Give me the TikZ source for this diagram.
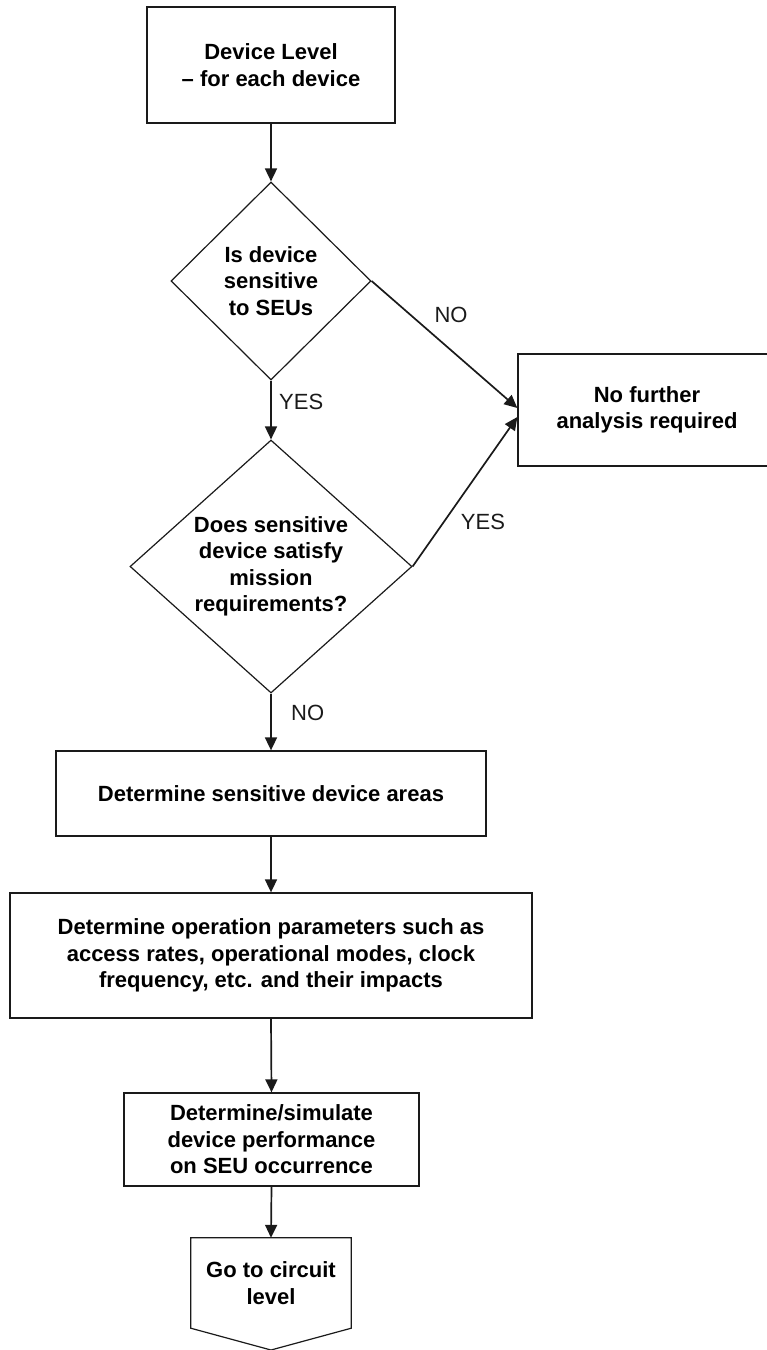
\documentclass[tikz,border=0pt]{standalone}
\usepackage{fontspec}
\setmainfont{Liberation Sans}
\usetikzlibrary{arrows.meta,shapes.geometric,calc}

\definecolor{ink}{HTML}{1A1A1A}

\begin{document}
\begin{tikzpicture}[x=1pt,y=-1pt,
  txt/.style={font=\fontsize{22}{26.5}\selectfont},
  boldtxt/.style={font=\bfseries\fontsize{22}{26.5}\selectfont},
  stepbox/.style={draw=ink, line width=1.3pt, boldtxt, align=center,
    inner sep=0pt, rectangle},
  decision/.style={draw=ink, line width=1.2pt, boldtxt, align=center,
    inner sep=0pt, shape=diamond},
  flow/.style={draw=ink, line width=1.7pt,
    -{Triangle[length=13pt,width=12pt]}},
  answer/.style={txt, inner sep=0pt, text=ink}
]
\clip (0,0) rectangle (767,1350);
\useasboundingbox (0,0) rectangle (767,1350);

% process boxes and decisions
\node[stepbox, minimum width=248pt, minimum height=116pt] (start) at (271,65)
  {Device Level\\– for each device};
\node[decision, minimum width=200pt, minimum height=198pt] (sens) at (271,281)
  {Is device\\sensitive\\to SEUs};
\node[stepbox, minimum width=258pt, minimum height=112pt] (stop) at (647,410)
  {No further\\analysis required};
\node[decision, shape aspect=1.115, minimum width=282pt, minimum height=253pt]
  (mission) at (271,566.5)
  {Does sensitive\\device satisfy\\mission\\requirements?};
\node[stepbox, minimum width=430pt, minimum height=85pt] (areas) at (271,793.5)
  {Determine sensitive device areas};
\node[stepbox, minimum width=522pt, minimum height=125pt] (params) at (271,955.5)
  {Determine operation parameters such as\\access rates, operational modes, clock\\frequency, etc. and their impacts};
\node[stepbox, minimum width=295pt, minimum height=93pt] (sim) at (271.5,1139.5)
  {Determine/simulate\\device performance\\on SEU occurrence};

% off-page connector
\node[boldtxt, align=center, inner sep=0pt, minimum width=160pt,
  minimum height=90pt] (circuit) at (271,1283) {Go to circuit\\level};
\coordinate (tip) at (271,1350);
\draw[ink, line width=1.2pt, line join=miter]
  (circuit.north west) -- (circuit.north east) -- (circuit.south east)
  -- (tip) -- (circuit.south west) -- cycle;

% connectors
\draw[flow] (start.south) -- (sens.north);
\draw[flow] (sens.east) -- ([yshift=2pt]stop.west);
\draw[flow] (sens.south) -- (mission.north);
\draw[flow] (mission.east) -- ([yshift=-7pt]stop.west);
\draw[flow] (mission.south) -- (areas.north);
\draw[flow] (areas.south) -- (params.north);
\draw[flow] (params.south) -- (sim.north);
\draw[flow] (sim.south) -- (circuit.north);

% branch labels
\node[answer] (noA) at (451,315) {NO};
\node[answer, anchor=west] (yesA) at (279,402) {YES};
\node[answer] (yesB) at (483,522) {YES};
\node[answer, anchor=west] (noB) at (291,713) {NO};
\end{tikzpicture}
\end{document}
